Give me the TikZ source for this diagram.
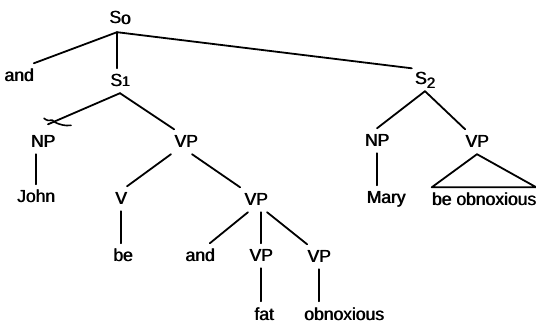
\documentclass[tikz,border=0pt]{standalone}
\usepackage{fontspec}
\newfontfamily\treefont{Liberation Sans}
% overprint the text with a small horizontal offset to give heavier strokes
\newcommand\heavy[1]{\rlap{\kern0.7pt#1}#1}
\begin{document}
\begin{tikzpicture}[x=1pt,y=-1pt,
  lbl/.style={anchor=base, inner xsep=0pt, inner ysep=6pt,
    text height=12.5pt, text depth=0pt,
    font=\treefont\fontsize{17.5}{18}\selectfont},
  branch/.style={line width=1.8pt, line cap=round, line join=round}]
\useasboundingbox (0,0) rectangle (536,323);

% category and word labels
\node[lbl, inner ysep=8.5pt] (S0) at (120,23.5) {\heavy{S\raisebox{-1pt}{o}}};
\node[lbl] (and1) at (19,82) {\heavy{and}};
\node[lbl] (S1) at (120,87) {\heavy{S{\fontsize{14}{14}\selectfont 1}}};
\node[lbl] (S2) at (425,85) {\heavy{S\raisebox{-4pt}{\fontsize{15}{15}\selectfont 2}}};
\node[lbl] (NP1) at (43,148) {\heavy{NP}};
\node[lbl] (VP1) at (186,148) {\heavy{VP}};
\node[lbl] (NP2) at (377,147) {\heavy{NP}};
\node[lbl] (VPb) at (477,148) {\heavy{VP}};
\node[lbl] (john) at (36,203) {\heavy{John}};
\node[lbl] (V) at (121,205) {\heavy{V}};
\node[lbl] (VP2) at (256,206) {\heavy{VP}};
\node[lbl] (mary) at (386,204) {\heavy{Mary}};
\node[lbl] (beob) at (484,206) {\heavy{be obnoxious}};
\node[lbl] (be) at (123,262) {\heavy{be}};
\node[lbl] (and2) at (200,262) {\heavy{and}};
\node[lbl] (VP3) at (261,262) {\heavy{VP}};
\node[lbl] (VP4) at (319,263) {\heavy{VP}};
\node[lbl] (fat) at (264,320) {\heavy{fat}};
\node[lbl] (obn) at (344,320) {\heavy{obnoxious}};

% branches of the top conjunction
\draw[branch] ([xshift=-3pt]S0.south) -- (and1.north east);
\draw[branch] ([xshift=-3pt]S0.south) -- ([xshift=-3pt]S0.south |- S1.north);
\draw[branch] ([xshift=-3pt]S0.south) -- ([xshift=-3pt,yshift=-2pt]S2.north west);

% left clause, with the hand-drawn cross-out on the subject branch
\draw[branch] (S1.south) -- ([xshift=5pt,yshift=5pt]NP1.north);
\draw[line width=1.6pt, line cap=round, line join=round]
  ([xshift=1pt,yshift=11pt]NP1.north)
  .. controls +(6,5) and +(-4,-5) .. ([xshift=12pt,yshift=7pt]NP1.north)
  .. controls +(4,2) and +(-6,1) .. ([xshift=28pt,yshift=4pt]NP1.north);
\draw[branch] (S1.south) -- (VP1.north west);
\draw[branch] (NP1.south -| john.north) -- (john.north);
\draw[branch] ([xshift=-15pt]VP1.south) -- (V.north east);
\draw[branch] ([xshift=6pt]VP1.south) -- ([xshift=-4pt]VP2.north west);
\draw[branch] (V.south) -- (V.south |- be.north);
\draw[branch] ([xshift=-8pt]VP2.south) -- ([xshift=-5pt]and2.north east);
\draw[branch] (VP3.north |- VP2.south) -- (VP3.north);
\draw[branch] ([xshift=11pt]VP2.south) -- (VP4.north west);
\draw[branch] (VP3.south) -- (VP3.south |- fat.north);
\draw[branch] (VP4.south) -- (VP4.south |- obn.north);

% right clause
\draw[branch] (S2.south) -- (NP2.north);
\draw[branch] (S2.south) -- (VPb.north west);
\draw[branch] (NP2.south) -- (NP2.south |- mary.north);
\draw[branch] (VPb.south) -- (beob.north west) -- (beob.north east) -- cycle;
\end{tikzpicture}
\end{document}
